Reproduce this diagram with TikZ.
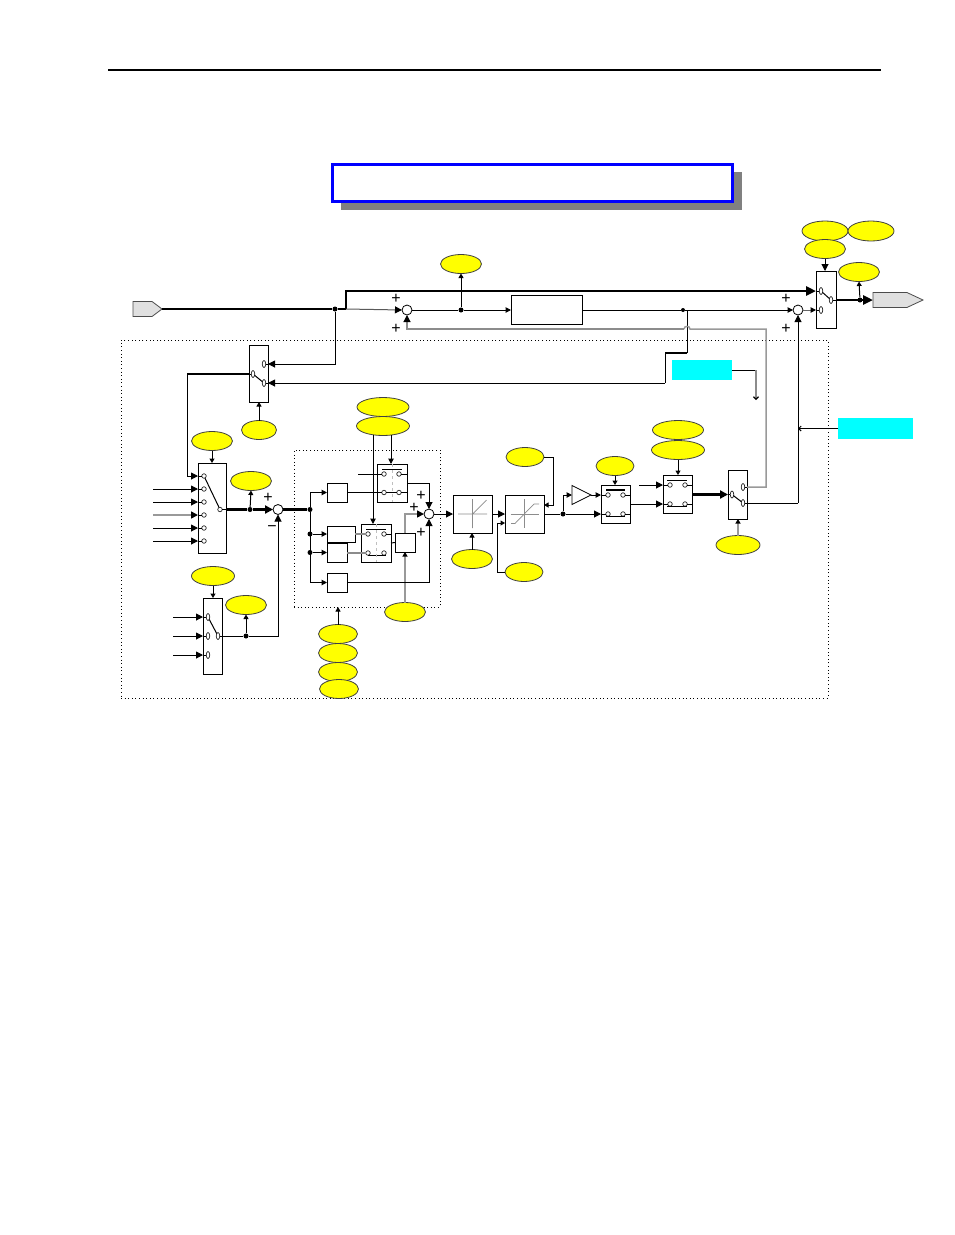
\documentclass[tikz,border=0pt]{standalone}
\usepackage{amsmath}
\usepackage{fontspec}
\newfontfamily\signfont{Liberation Sans}
\usetikzlibrary{arrows.meta, positioning, shapes.geometric, shapes.symbols, calc}
\definecolor{ovalyellow}{RGB}{255,255,0}
\definecolor{notecyan}{RGB}{0,255,255}
\definecolor{titleblue}{RGB}{0,0,255}

\begin{document}
\begin{tikzpicture}[x=1pt, y=-1pt,
    % Blocks
    wh/.style 2 args={minimum width=#1pt, minimum height=#2pt},
    swbox/.style={rectangle, draw, fill=white, inner sep=0pt, outer sep=0pt, line width=1pt},
    oval/.style={ellipse, draw=black!75, fill=ovalyellow, inner sep=0pt, outer sep=0pt, line width=0.8pt, wh={41}{19}},
    notebox/.style={rectangle, fill=notecyan, inner sep=0pt, outer sep=0pt},
    dotbox/.style={rectangle, draw, inner sep=0pt, outer sep=0pt, line width=0.8pt, dash pattern=on 1pt off 2.6pt},
    port/.style={signal, signal to=east, signal from=nowhere, draw=black!70, fill=black!12, inner sep=0pt, outer sep=0pt, line width=0.8pt, anchor=west},
    sumnode/.style={circle, draw, fill=white, inner sep=0pt, outer sep=0pt, minimum size=10pt, line width=0.8pt},
    junction/.style={circle, fill=black, inner sep=0pt, minimum size=5pt},
    contact/.style={circle, draw=black!85, fill=white, inner sep=0pt, outer sep=0pt, minimum size=4.5pt, line width=0.7pt},
    slot/.style={ellipse, draw=black!85, fill=white, inner sep=0pt, outer sep=0pt, wh={3.5}{7}, line width=0.7pt},
    signtext/.style={inner sep=0pt, font=\fontsize{16}{16}\signfont},
    % Lines
    wire/.style={line width=1pt},
    graywire/.style={line width=1.5pt, color=black!40},
    thingray/.style={line width=1.1pt, color=black!45},
    midwire/.style={line width=2.2pt},
    fatwire/.style={line width=2.8pt},
    curve/.style={black!45, line width=0.7pt},
    arrow/.style={wire, -{Triangle[length=7pt, width=7pt, color=black]}},
    minorarrow/.style={wire, -{Triangle[length=5.5pt, width=5.5pt, color=black]}},
    smallarrow/.style={wire, -{Triangle[length=4.5pt, width=5pt, color=black]}},
    midarrow/.style={midwire, -{Triangle[length=8pt, width=8pt, color=black]}},
    fatarrow/.style={fatwire, -{Triangle[length=10pt, width=9pt, color=black]}},
    openarrow/.style={wire, -{Straight Barb[length=2.5pt, width=5pt]}}
]
\useasboundingbox (0,0) rectangle (954,1235);

% Header rule
\draw[line width=2pt] (108,70) -- (881,70);

% Title banner
\node[rectangle, fill=black!50, inner sep=0pt, wh={401}{38}] at (541.5,191) (titleshadow) {};
\node[rectangle, draw=titleblue, fill=white, line width=3pt, inner sep=0pt, wh={400}{37}] at (532,182.5) (title) {};

% Dotted frames
\node[dotbox, wh={707}{358}] at (474.5,519) (outerframe) {};
\node[dotbox, wh={146}{157}] at (367,528.5) (pidframe) {};

% Ports
\node[port, wh={29}{15}, signal pointer angle=74] at (133,309) (portIn) {};
\node[port, wh={50}{15}, signal pointer angle=50] at (873,300) (portOut) {};

% Top row
\node[sumnode] at (407,310) (sumA) {};
\node[junction] at (461,310) (jctA) {};
\node[swbox, wh={71}{29}] at (546.5,310) (plant) {};
\node[junction, minimum size=4pt] at (683,310) (jctB) {};
\node[sumnode] at (798,310) (sumB) {};
\node[junction] at (335,309) (jctIn) {};
\node[junction] at (860,300) (jctOut) {};

% Main output switch
\node[swbox, wh={20}{57}] at (826,299.5) (swMain) {};
\node[slot] at (821,291) (swMaina) {};
\node[slot] at (821,310) (swMainb) {};
\node[slot] at (831,300) (swMainc) {};

% Feed select switch
\node[swbox, wh={19}{57}] at (258.5,373.5) (swFeed) {};
\node[slot] at (264,364) (swFeeda) {};
\node[slot] at (264,383) (swFeedb) {};
\node[slot] at (253,374) (swFeedc) {};

% Reference switch
\node[swbox, wh={28}{90}] at (212,508) (swRef) {};
\foreach \i/\y in {1/476,2/489,3/502,4/515,5/528,6/541} {
    \node[contact] at (204,\y) (ref\i) {};
    \coordinate (refin\i) at (153,\y);
}
\node[contact] at (220,509.5) (refout) {};

% Feedback switch
\node[swbox, wh={19}{76}] at (212.5,636) (swFb) {};
\foreach \i/\y in {1/617,2/636,3/655} {
    \node[slot] at (208,\y) (fb\i) {};
    \coordinate (fbin\i) at (173,\y);
}
\node[slot] at (218,636) (fbout) {};

% Error summing
\node[sumnode] at (278,509.5) (sumErr) {};
\node[junction] at (250,509.5) (jctRef) {};
\node[junction] at (246,636) (jctFb) {};

% Controller blocks
\node[junction] at (310,509.5) (jctPid) {};
\node[junction] at (310,534) (jctPidB) {};
\node[junction] at (310,552.5) (jctPidC) {};
\node[swbox, wh={20}{19}] at (337,492.5) (boxA) {};
\node[swbox, wh={28}{16}] at (341,534) (boxB) {};
\node[swbox, wh={20}{19}] at (337,552.5) (boxC) {};
\node[swbox, wh={20}{19}] at (337,582.5) (boxD) {};
\node[swbox, wh={20}{19}] at (405,542.5) (boxE) {};
\node[sumnode] at (429,514) (sumPid) {};

% Double switches, all four contacts
\node[swbox, wh={30}{38}] at (392,483) (swP) {};
\node[swbox, wh={30}{38}] at (376,543) (swI) {};
\node[swbox, wh={29}{38}] at (615.5,504) (swG) {};
\node[swbox, wh={29}{38}] at (677.5,494) (swL) {};
\foreach \n/\xa/\xb/\ya/\yb in {swP/384/399/474/492.5, swI/368/384/534/553, swG/608/623/495/514, swL/670/685/485/504} {
    \node[contact] at (\xa,\ya) (\n a) {};
    \node[contact] at (\xb,\ya) (\n b) {};
    \node[contact] at (\xa,\yb) (\n c) {};
    \node[contact] at (\xb,\yb) (\n d) {};
}

% Limit blocks and gain
\node[swbox, wh={39}{38}] at (472.5,514) (nlDead) {};
\node[swbox, wh={39}{38}] at (524.5,514) (nlSat) {};
\node[junction] at (563,514) (jctSat) {};
\node[isosceles triangle, isosceles triangle apex angle=53, isosceles triangle stretches, draw, fill=white, inner sep=0pt, outer sep=0pt, wh={19}{19}, anchor=apex, line width=0.8pt] at (591,495) (gain) {};

% Output switch
\node[swbox, wh={19}{49}] at (737.5,494.5) (swOut) {};
\node[slot] at (743,487) (swOuta) {};
\node[slot] at (743,503) (swOutb) {};
\node[slot] at (732,494.5) (swOutc) {};

% Notes
\node[notebox, wh={60}{20}] at (702,370) (noteA) {};
\node[notebox, wh={75}{21}] at (875.5,428.5) (noteB) {};

% Parameter ovals
\node[oval, wh={46}{20}] at (825,231) (ovM1) {};
\node[oval, wh={46}{20}] at (871,231) (ovM2) {};
\node[oval] at (825,249) (ovM3) {};
\node[oval] at (859,272) (ovOut) {};
\node[oval] at (461,264) (ovTop) {};
\node[oval, wh={35}{19}] at (259,430) (ovFeed) {};
\node[oval] at (212,441) (ovRef) {};
\node[oval] at (251,481) (ovRefVal) {};
\node[oval, wh={43}{19}] at (213,576) (ovFb) {};
\node[oval] at (246,605) (ovFbVal) {};
\node[oval, wh={52}{19}] at (383,407) (ovPid1) {};
\node[oval, wh={53}{19}] at (383,426) (ovPid2) {};
\node[oval] at (405,612) (ovKv) {};
\node[oval, wh={39}{19}] at (338,634) (ovGain1) {};
\node[oval, wh={39}{19}] at (338,653) (ovGain2) {};
\node[oval, wh={39}{19}] at (338,672) (ovGain3) {};
\node[oval, wh={39}{19}] at (339,689) (ovGain4) {};
\node[oval] at (472,559) (ovDead) {};
\node[oval, wh={38}{19}] at (525,457) (ovSatA) {};
\node[oval, wh={38}{19}] at (524,572) (ovSatB) {};
\node[oval, wh={38}{19}] at (615,466) (ovG) {};
\node[oval, wh={51}{19}] at (678,430) (ovL1) {};
\node[oval, wh={53}{19}] at (678,450) (ovL2) {};
\node[oval, wh={44}{19}] at (738,545) (ovSel) {};

% Signs
\node[signtext] at (396,299) (signA) {+};
\node[signtext] at (396,329) (signB) {+};
\node[signtext] at (786,299) (signC) {+};
\node[signtext] at (786,329) (signD) {+};
\node[signtext] at (268,498) (signE) {+};
\node[signtext] at (272,529) (signF) {−};
\node[signtext] at (421,496) (signG) {+};
\node[signtext] at (414,508) (signH) {+};
\node[signtext] at (421,533) (signI) {+};

% Turning points
\coordinate (turnA) at (346,309);
\coordinate (turnB) at (346,291);
\coordinate (tap) at (687,310);
\coordinate (turnC) at (687,353);
\coordinate (turnD) at (665,353);
\coordinate (turnE) at (665,383);
\coordinate (feedTurnA) at (187,374);
\coordinate (feedTurnB) at (187,476);
\coordinate (backA) at (766,487);
\coordinate (backB) at (766,329);
\coordinate (hopR) at (690,329);
\coordinate (hopL) at (684,329);
\coordinate (backC) at (407,329);
\coordinate (upTurn) at (798,503);
\coordinate (noteTurn) at (756,370);
\coordinate (noteEnd) at (756,400);
\coordinate (satTurnA) at (553,457);
\coordinate (satTurnB) at (553,505);
\coordinate (satTurnC) at (497.5,572);
\coordinate (satTurnD) at (497.5,523);
\coordinate (gainTurn) at (563,495);
\coordinate (swPin) at (358,474);
\coordinate (swLin) at (639,485);

% Main bus
\draw[fatwire] (portIn.east) -- (jctIn) -- (turnA);
\draw[fatarrow] (turnA) -- (turnB) -- (swMain.west |- swMaina);
\draw[wire] (swMain.west |- swMaina) -- (swMaina);
\draw[arrow, black!65] (turnA) -- (sumA.west);
\draw[wire] (sumA.east) -- (jctA);
\draw[smallarrow] (jctA) -- (ovTop.south);
\draw[minorarrow] (jctA) -- (plant.west);
\draw[wire] (plant.east) -- (jctB);
\draw[minorarrow] (jctB) -- (sumB.west);
\draw[minorarrow, black!60] (sumB.east) -- (swMain.west |- swMainb);
\draw[wire] (swMain.west |- swMainb) -- (swMainb);
\draw[wire] (swMaina) -- (swMainc);
\draw[wire] (swMainc) -- (swMain.east |- swMainc);
\draw[fatarrow] (swMain.east |- swMainc) -- (portOut.west);
\draw[smallarrow] (jctOut) -- (ovOut.south);
\draw[arrow] (ovM3.south) -- (swMain.north -| ovM3);

% Feedforward branch
\draw[wire] (tap) -- (turnC);
\draw[midwire] (turnC) -- (turnD);
\draw[wire] (turnD) -- (turnE);
\draw[arrow] (turnE) -- (swFeed.east |- swFeedb);
\draw[wire] (swFeed.east |- swFeedb) -- (swFeedb);
\draw[arrow] (jctIn) |- (swFeed.east |- swFeeda);
\draw[wire] (swFeed.east |- swFeeda) -- (swFeeda);
\draw[wire] (swFeedc) -- (swFeedb);
\draw[wire] (swFeed.west |- swFeedc) -- (swFeedc);
\draw[midwire] (swFeed.west |- swFeedc) -- (feedTurnA);
\draw[arrow] (feedTurnA) -- (feedTurnB) -- (swRef.west |- ref1);
\draw[smallarrow] (ovFeed.north) -- (swFeed.south -| ovFeed);

% Reference inputs
\draw[wire] (swRef.west |- ref1) -- (ref1);
\foreach \i in {2,3,5,6} {
    \draw[arrow] (refin\i) -- (swRef.west |- ref\i);
    \draw[wire] (swRef.west |- ref\i) -- (ref\i);
}
\draw[graywire, -{Triangle[length=7pt, width=7pt, color=black]}] (refin4) -- (swRef.west |- ref4);
\draw[wire] (swRef.west |- ref4) -- (ref4);
\draw[wire] (ref1) -- (refout);
\draw[smallarrow] (ovRef.south) -- (swRef.north -| ovRef);
\draw[wire] (refout) -- (swRef.east |- refout);
\draw[midwire] (swRef.east |- refout) -- (jctRef);
\draw[midarrow] (jctRef) -- (sumErr.west);
\draw[smallarrow] (jctRef) -- (ovRefVal.south);

% Feedback inputs
\foreach \i in {1,2,3} {
    \draw[arrow] (fbin\i) -- (swFb.west |- fb\i);
    \draw[wire] (swFb.west |- fb\i) -- (fb\i);
}
\draw[wire] (fb1) -- (fbout);
\draw[smallarrow] (ovFb.south) -- (swFb.north -| ovFb);
\draw[wire] (fbout) -- (jctFb);
\draw[arrow] (jctFb) -| (sumErr.south);
\draw[smallarrow] (jctFb) -- (ovFbVal.south);

% Controller
\draw[midwire] (sumErr.east) -- (jctPid);
\draw[minorarrow] (jctPid) |- (boxA.west);
\draw[minorarrow] (jctPid) |- (boxD.west);
\draw[minorarrow] (jctPidB) -- (boxB.west);
\draw[minorarrow] (jctPidC) -- (boxC.west);
\draw[wire] (boxA.east) -- (swPc);
\draw[wire] (swPin) -- (swPa);
\draw[wire] (swPb) -- (swP.east |- swPb);
\draw[wire] (swPc) -- (swPd);
\draw[wire] (swPd) -- (swP.east |- swPd);
\draw[wire] (382,469) -- (402,469);
\draw[black!25, line width=0.6pt, dashed] (swP.north) -- (swP.south);
\draw[arrow] (swP.east) -| (sumPid.north);
\draw[thingray] (boxB.east) -- (swIa);
\draw[thingray] (boxC.east |- swIc) -- (swIc);
\draw[wire] (swIb) -- (swI.east |- swIb);
\draw[wire] (368,555) -- (386,555);
\draw[wire] (366,529) -- (386,529);
\draw[black!25, line width=0.6pt, dashed] (swI.north) -- (swI.south);
\draw[wire] (swI.east) -- (boxE.west);
\draw[graywire, -{Triangle[length=7pt, width=7pt, color=black]}] (boxE.north) |- (sumPid.west);
\draw[graywire, -{Triangle[length=4.5pt, width=5pt, color=black]}] (ovKv.north) -- (boxE.south);
\draw[arrow] (boxD.east) -| (sumPid.south);
\draw[minorarrow] ([xshift=-10pt, yshift=1pt]ovPid2.south) -- ([xshift=-3pt]swI.north);
\draw[minorarrow] ([xshift=8pt, yshift=1pt]ovPid2.south) -- ([xshift=-1pt]swP.north);
\draw[smallarrow] (ovGain1.north) -- (pidframe.south -| ovGain1);
\draw[arrow] (sumPid.east) -- (nlDead.west);

% Limit stages
\draw[arrow] (nlDead.east) -- (nlSat.west);
\draw[smallarrow] (ovDead.north) -- (nlDead.south -| ovDead);
\draw[curve] (458,514) -- (487,514) (472.5,499) -- (472.5,528) (472.5,514) -- (486.5,500);
\draw[curve] (510.5,514) -- (539,514) (524.5,499) -- (524.5,528);
\draw[curve] (511,523.5) -- (515,523.5) -- (534,504) -- (539,504);
\draw[smallarrow] (ovSatA.east) -- (satTurnA) -- (satTurnB) -- (nlSat.east |- satTurnB);
\draw[smallarrow] (ovSatB.west) -- (satTurnC) -- (satTurnD) -- (nlSat.west |- satTurnD);
\draw[wire] (nlSat.east) -- (jctSat);
\draw[arrow] (jctSat) -- (swG.west |- swGc);
\draw[minorarrow] (jctSat) -- (gainTurn) -- (gain.west);
\draw[minorarrow] (gain.apex) -- (swG.west |- swGa);

% Gain and limit switches
\draw[wire] (swG.west |- swGa) -- (swGa);
\draw[wire] (swG.west |- swGc) -- (swGc);
\draw[wire] (swGb) -- (swG.east |- swGb);
\draw[wire] (swGd) -- (swG.east |- swGd);
\draw[line width=1.6pt] (606,490) -- (625,490);
\draw[wire] (606,516) -- (625,516);
\draw[smallarrow] (ovG.south) -- (swG.north -| ovG);
\draw[arrow] (swG.east |- swLc) -- (swL.west |- swLc);
\draw[arrow] (swLin) -- (swL.west |- swLa);
\draw[wire] (swL.west |- swLa) -- (swLa);
\draw[wire] (swL.west |- swLc) -- (swLc);
\draw[wire] (swLb) -- (swL.east |- swLb);
\draw[wire] (swLd) -- (swL.east |- swLd);
\draw[wire] (667,480) -- (687,480);
\draw[wire] (667,506) -- (687,506);
\draw[smallarrow] (ovL2.south) -- (swL.north -| ovL2);
\draw[midarrow] (swL.east |- swOutc) -- (swOut.west |- swOutc);
\draw[wire] (swOut.west |- swOutc) -- (swOutc);
\draw[wire] (swOutc) -- (swOutb);
\draw[graywire, -{Triangle[length=4.5pt, width=5pt, color=black]}] (ovSel.north) -- (swOut.south -| ovSel);

% Feedback paths
\draw[wire] (swOuta) -- (swOut.east |- swOuta);
\draw[graywire] (swOut.east |- swOuta) -- (backA) -- (backB) -- (hopR) .. controls +(0,-3.5) and +(0,-3.5) .. (hopL);
\draw[thingray, -{Triangle[length=7pt, width=7pt, color=black]}] (hopL) -- (backC) -- (sumA.south);
\draw[wire] (swOutb) -- (upTurn);
\draw[arrow] (upTurn) -- (sumB.south);

% Notes
\draw[wire] (noteA.east) -- (noteTurn);
\draw[thingray, -{Straight Barb[length=2.5pt, width=5pt, color=black]}] (noteTurn) -- (noteEnd);
\draw[openarrow] (noteB.west) -- (upTurn |- noteB.west);

\end{tikzpicture}
\end{document}
